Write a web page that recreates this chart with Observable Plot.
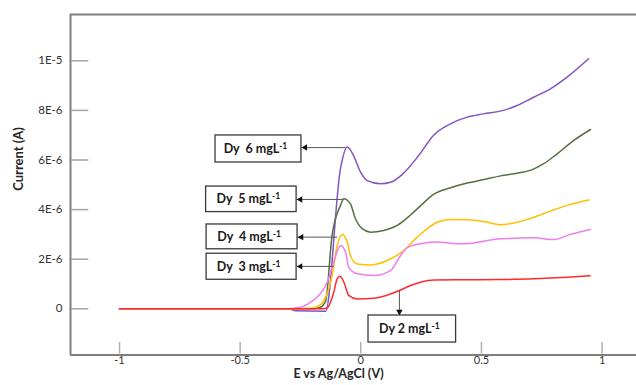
<!DOCTYPE html>
<html><head><meta charset="utf-8">
<script src="https://cdn.jsdelivr.net/npm/d3@7"></script>
<script src="https://cdn.jsdelivr.net/npm/@observablehq/plot@0.6"></script>
<style>
html,body{margin:0;padding:0;background:#fff;}
svg text{white-space:pre;}
</style>
</head><body><div id="chart"></div>
<script>
// Potential (V) vs current (in units of 1E-6 A)
const dy2 = [[-1,0],[-0.5,0],[-0.25,0],[-0.16,0],[-0.139,0.03],[-0.122,0.35],[-0.112,0.67],[-0.098,1.21],[-0.087,1.31],[-0.070,1.07],[-0.050,0.54],[-0.015,0.40],[0.054,0.43],[0.123,0.60],[0.165,0.76],[0.206,0.94],[0.247,1.07],[0.303,1.16],[0.441,1.17],[0.579,1.18],[0.717,1.21],[0.855,1.27],[0.95,1.33]];
const dy3 = [[-1,0],[-0.5,0],[-0.3,0],[-0.25,0.06],[-0.208,0.27],[-0.174,0.54],[-0.139,1.07],[-0.112,1.88],[-0.095,2.38],[-0.084,2.55],[-0.063,2.28],[-0.050,1.68],[-0.015,1.41],[0.054,1.34],[0.123,1.54],[0.165,2.15],[0.19,2.45],[0.247,2.62],[0.303,2.69],[0.427,2.62],[0.579,2.82],[0.717,2.86],[0.800,2.79],[0.869,3.00],[0.95,3.20]];
const dy4 = [[-1,0],[-0.5,0],[-0.25,0],[-0.208,0.02],[-0.17,0.15],[-0.153,0.33],[-0.119,1.34],[-0.098,2.55],[-0.077,3.00],[-0.056,2.69],[-0.043,2.15],[-0.015,1.81],[0.040,1.77],[0.109,1.95],[0.178,2.35],[0.234,2.89],[0.317,3.49],[0.372,3.60],[0.441,3.59],[0.510,3.52],[0.579,3.39],[0.648,3.49],[0.717,3.69],[0.786,3.94],[0.855,4.17],[0.945,4.39]];
const dy5 = [[-1,0],[-0.5,0],[-0.25,0],[-0.2,0],[-0.17,0.05],[-0.146,0.3],[-0.119,2.96],[-0.084,4.17],[-0.070,4.44],[-0.043,4.23],[-0.022,3.63],[0.006,3.23],[0.040,3.09],[0.095,3.16],[0.151,3.36],[0.206,3.78],[0.247,4.15],[0.303,4.62],[0.372,4.88],[0.441,5.07],[0.510,5.21],[0.579,5.36],[0.648,5.47],[0.703,5.58],[0.758,5.85],[0.814,6.25],[0.883,6.79],[0.952,7.23]];
const dy6 = [[-1,0],[-0.5,0],[-0.3,0],[-0.27,-0.08],[-0.146,-0.10],[-0.084,5.66],[-0.056,6.52],[-0.030,6.18],[-0.001,5.51],[0.027,5.17],[0.082,5.04],[0.123,5.10],[0.170,5.40],[0.240,6.18],[0.301,6.99],[0.372,7.46],[0.441,7.73],[0.508,7.86],[0.591,8.00],[0.648,8.20],[0.716,8.53],[0.786,8.87],[0.855,9.34],[0.944,10.08]];

const seriesNames = ["Dy 6", "Dy 5", "Dy 4", "Dy 3", "Dy 2"];
const seriesData = [dy6, dy5, dy4, dy3, dy2];
const seriesColors = ["#8254c2", "#56703f", "#ffc000", "#f07cf0", "#ff2b2b"];

const xTickValues = [-1, -0.5, 0, 0.5, 1];
const xTickLabels = ["-1", "-0.5", "0", "0.5", "1"];
const yTickValues = [0, 2, 4, 6, 8, 10];
const yTickLabels = ["0", "2E-6", "4E-6", "6E-6", "8E-6", "1E-5"];

// annotation boxes (data coordinates)
const labelText = ["Dy  6 mgL", "Dy  5 mgL", "Dy  4 mgL", "Dy  3 mgL", "Dy 2 mgL"];
const boxX1 = [-0.602, -0.641, -0.639, -0.639, 0.032];
const boxX2 = [-0.246, -0.266, -0.262, -0.266, 0.395];
const boxY1 = [5.90, 3.90, 2.40, 1.17, -1.36];
const boxY2 = [6.99, 4.93, 3.40, 2.22, -0.27];
const arrowX1 = [-0.064, -0.072, -0.098, -0.113, 0.160];
const arrowY1 = [6.50, 4.41, 2.89, 1.71, 0.74];
const arrowX2 = [-0.246, -0.266, -0.262, -0.266, 0.160];
const arrowY2 = [6.50, 4.41, 2.89, 1.71, -0.27];
const arrowDir = [-90, -90, -90, -90, 180];

const W = 636, H = 385, mL = 70, mR = 0, mT = 14, mB = 30.5;
const xDomain = [-1.203, 1.1426];
const yDomain = [-1.863, 11.867];
const plotW = W - mL - mR, plotH = H - mT - mB;
const idx = d3.range(labelText.length);
const gray = "#7f7f7f";

const lineMarks = seriesData.map((pts, i) => Plot.line(pts, {
  x: d => d[0], y: d => d[1], stroke: seriesColors[i], strokeWidth: 1.5, curve: "monotone-x"
}));

const chart = Plot.plot({
  width: W, height: H,
  marginLeft: mL, marginRight: mR, marginTop: mT, marginBottom: mB,
  style: {fontFamily: "Lato, 'Open Sans', sans-serif", fontSize: "11px", background: "#fff"},
  x: {domain: xDomain, axis: null},
  y: {domain: yDomain, axis: null},
  marks: [
    Plot.tickY(yTickValues, {y: d => d, stroke: "#a3a3a3", strokeWidth: 1.5, insetLeft: 1.5, insetRight: plotW - 18.3}),
    Plot.tickX(xTickValues, {x: d => d, stroke: "#b0b0b0", strokeWidth: 1.5, insetTop: plotH - 12.5, insetBottom: 1}),
    Plot.axisY(yTickValues, {tickSize: 0, tickPadding: 8, label: null, fill: "#333", fontSize: 11.5,
      tickFormat: d => yTickLabels[yTickValues.indexOf(d)]}),
    Plot.axisX(xTickValues, {tickSize: 0, tickPadding: 1.5, label: null, fill: "#333", fontSize: 11,
      tickFormat: d => xTickLabels[xTickValues.indexOf(d)]}),
    Plot.ruleX([xDomain[0]], {stroke: gray, strokeWidth: 2}),
    Plot.ruleY([yDomain[0]], {stroke: gray, strokeWidth: 2}),
    Plot.ruleY([yDomain[1]], {stroke: gray, strokeWidth: 2}),
    ...lineMarks,
    Plot.link(idx, {x1: i => arrowX1[i], y1: i => arrowY1[i], x2: i => arrowX2[i], y2: i => arrowY2[i], stroke: "#555", strokeWidth: 1}),
    Plot.dot(idx, {x: i => arrowX2[i], y: i => arrowY2[i], symbol: "triangle", r: 2.4, fill: "#111", stroke: "none",
      rotate: i => arrowDir[i]}),
    Plot.rect(idx, {x1: i => boxX1[i], x2: i => boxX2[i], y1: i => boxY1[i], y2: i => boxY2[i], fill: "#fff", stroke: "#3a3a3a", strokeWidth: 1.3}),
    Plot.text(idx, {x: i => (boxX1[i] + boxX2[i]) / 2, y: i => (boxY1[i] + boxY2[i]) / 2, text: i => labelText[i],
      fontWeight: "bold", fontSize: 12.5, fill: "#1a1a1a", dx: -3}),
    Plot.text(["Current (A)"], {frameAnchor: "left", rotate: -90, dx: -52, dy: 6, fontWeight: "bold", fontSize: 13, fill: "#262626"}),
    Plot.text(["E vs Ag/AgCl (V)"], {frameAnchor: "bottom", dx: -15, dy: 23, fontWeight: "bold", fontSize: 12.5, fill: "#262626"})
  ]
});

// shift arrowheads so the tips touch the boxes
d3.select(chart).selectAll('g[aria-label="dot"] path').each(function(_, k) {
  const el = d3.select(this);
  const t = el.attr("transform") || "";
  const off = arrowDir[k] === 180 ? "translate(0,-3.8) " : "translate(3.8,0) ";
  el.attr("transform", off + t);
});

// superscript "-1"
d3.select(chart).selectAll("text").each(function() {
  const el = d3.select(this);
  const txt = el.text();
  if (!labelText.includes(txt)) return;
  el.text(null);
  el.append("tspan").text(txt);
  el.append("tspan").attr("dy", "-0.45em").attr("font-size", "8.5px").text("-1");
});

document.getElementById("chart").appendChild(chart);
</script>
</body></html>
